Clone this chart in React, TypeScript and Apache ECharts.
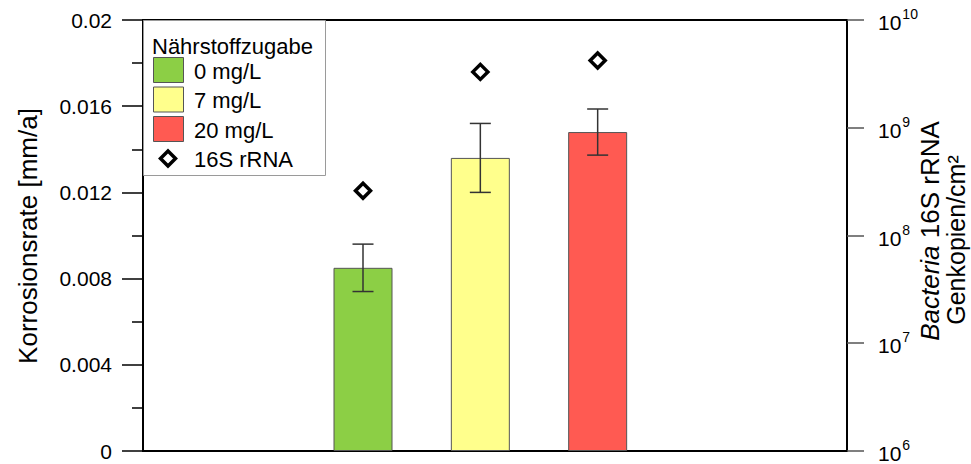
import React, { useEffect, useRef } from 'react';
import * as echarts from 'echarts';

// ---- data ----
const categories = ['0 mg/L', '7 mg/L', '20 mg/L'];
const xPositions = [1.875, 2.875, 3.875];
const corrosionRate = [0.0085, 0.0136, 0.0148];
const corrosionError = [0.0011, 0.0016, 0.00107];
const rna16S = [2.6e8, 3.3e9, 4.2e9];
const barColors = ['#8CCF45', '#FFFF8C', '#FF5A52'];
const legendTitle = 'Nährstoffzugabe';
const rnaName = '16S rRNA';

const FONT = '"Liberation Sans", Arial, Helvetica, sans-serif';

export default function App() {
  const ref = useRef<HTMLDivElement>(null);
  useEffect(() => {
    if (!ref.current) return;
    const chart = echarts.init(ref.current, undefined, { renderer: 'svg' });

    const barData = corrosionRate.map((v, i) => ({
      name: categories[i],
      value: [xPositions[i], v],
      itemStyle: { color: barColors[i] },
    }));
    const errData = corrosionRate.map((v, i) => [xPositions[i], v - corrosionError[i], v + corrosionError[i]]);
    const rnaData = rna16S.map((v, i) => [xPositions[i], v]);

    const legendGraphics: any[] = [
      {
        type: 'rect',
        shape: { x: 143.5, y: 20.5, width: 182, height: 155 },
        style: { fill: '#fff', stroke: '#9a9a9a', lineWidth: 1 },
        z: 10,
      },
      {
        type: 'text',
        x: 152,
        y: 46,
        style: { text: legendTitle, font: `22px ${FONT}`, fill: '#000', textVerticalAlign: 'middle' },
        z: 11,
      },
    ];
    categories.forEach((c, i) => {
      const cy = 70 + i * 29.5;
      legendGraphics.push({
        type: 'rect',
        shape: { x: 153.5, y: cy - 12.5, width: 30, height: 25 },
        style: { fill: barColors[i], stroke: '#555', lineWidth: 1 },
        z: 11,
      });
      legendGraphics.push({
        type: 'text',
        x: 194,
        y: cy + 1,
        style: { text: c, font: `22px ${FONT}`, fill: '#000', textVerticalAlign: 'middle' },
        z: 11,
      });
    });
    const dy = 70 + 3 * 29.5;
    legendGraphics.push({
      type: 'polygon',
      shape: { points: [[168, dy - 7.5], [175.5, dy], [168, dy + 7.5], [160.5, dy]] },
      style: { fill: '#fff', stroke: '#000', lineWidth: 3.5 },
      z: 11,
    });
    legendGraphics.push({
      type: 'text',
      x: 194,
      y: dy + 1,
      style: { text: rnaName, font: `22px ${FONT}`, fill: '#000', textVerticalAlign: 'middle' },
      z: 11,
    });

    const titles: any[] = [
      {
        type: 'text',
        x: 28,
        y: 236,
        rotation: Math.PI / 2,
        style: {
          text: 'Korrosionsrate [mm/a]',
          font: `26px ${FONT}`,
          fill: '#000',
          textAlign: 'center',
          textVerticalAlign: 'middle',
        },
      },
      {
        type: 'text',
        x: 930,
        y: 231,
        rotation: Math.PI / 2,
        style: {
          text: '{i|Bacteria} 16S rRNA',
          rich: {
            i: { fontStyle: 'italic', fontSize: 26, fontFamily: FONT, fill: '#000' },
          },
          fontSize: 26,
          fontFamily: FONT,
          fill: '#000',
          textAlign: 'center',
          textVerticalAlign: 'middle',
        },
      },
      {
        type: 'text',
        x: 956,
        y: 240,
        rotation: Math.PI / 2,
        style: {
          text: 'Genkopien/cm²',
          font: `25px ${FONT}`,
          fill: '#000',
          textAlign: 'center',
          textVerticalAlign: 'middle',
        },
      },
    ];

    chart.setOption({
      animation: false,
      backgroundColor: '#fff',
      grid: {
        left: 143,
        right: 124,
        top: 20,
        bottom: 10,
        show: true,
        borderColor: '#000',
        borderWidth: 2,
        backgroundColor: 'transparent',
      },
      xAxis: {
        type: 'value',
        min: 0,
        max: 6,
        axisLine: { show: true, lineStyle: { color: '#000', width: 2 } },
        axisTick: { show: false },
        axisLabel: { show: false },
        splitLine: { show: false },
      },
      yAxis: [
        {
          type: 'value',
          min: 0,
          max: 0.02,
          interval: 0.004,
          position: 'left',
          axisLine: { show: true, lineStyle: { color: '#000', width: 2 } },
          axisTick: { show: true, length: 21, lineStyle: { color: '#000', width: 1.5 } },
          minorTick: { show: true, splitNumber: 2, length: 11, lineStyle: { color: '#000', width: 1.5 } },
          splitLine: { show: false },
          minorSplitLine: { show: false },
          axisLabel: {
            fontSize: 21,
            fontFamily: FONT,
            color: '#000',
            margin: 31,
            formatter: (v: number) => String(+v.toFixed(3)),
          },
        },
        {
          type: 'log',
          logBase: 10,
          min: 1e6,
          max: 1e10,
          position: 'right',
          axisLine: { show: true, lineStyle: { color: '#000', width: 2 } },
          axisTick: { show: true, length: 17, lineStyle: { color: '#555', width: 1.5 } },
          splitLine: { show: false },
          axisLabel: {
            margin: 31,
            color: '#000',
            formatter: (v: number) => `{b|10}{s|${Math.round(Math.log10(v))}}`,
            rich: {
              b: { fontSize: 21, fontFamily: FONT, color: '#000', verticalAlign: 'bottom' },
              s: { fontSize: 14, fontFamily: FONT, color: '#000', verticalAlign: 'bottom', padding: [0, 0, 12, 1] },
            },
          },
        },
      ],
      series: [
        {
          name: 'Korrosionsrate',
          type: 'bar',
          yAxisIndex: 0,
          barWidth: 59,
          data: barData,
          itemStyle: { borderColor: '#555', borderWidth: 1 },
        },
        {
          name: 'Fehler',
          type: 'custom',
          yAxisIndex: 0,
          data: errData,
          z: 5,
          renderItem: (params: any, api: any) => {
            const x = api.value(0);
            const lo = api.coord([x, api.value(1)]);
            const hi = api.coord([x, api.value(2)]);
            const hw = 10.5;
            const style = { stroke: '#333', lineWidth: 1.5 };
            return {
              type: 'group',
              children: [
                { type: 'line', shape: { x1: hi[0], y1: hi[1], x2: lo[0], y2: lo[1] }, style },
                { type: 'line', shape: { x1: hi[0] - hw, y1: hi[1], x2: hi[0] + hw, y2: hi[1] }, style },
                { type: 'line', shape: { x1: lo[0] - hw, y1: lo[1], x2: lo[0] + hw, y2: lo[1] }, style },
              ],
            };
          },
        },
        {
          name: rnaName,
          type: 'scatter',
          yAxisIndex: 1,
          symbol: 'diamond',
          symbolSize: 15,
          data: rnaData,
          itemStyle: { color: '#fff', borderColor: '#000', borderWidth: 3.5, opacity: 1 },
          z: 6,
        },
      ],
      graphic: [...legendGraphics, ...titles],
    });

    return () => chart.dispose();
  }, []);

  return (
    <div
      ref={ref}
      style={{ position: 'fixed', left: 0, top: 0, width: 971, height: 464, background: '#fff' }}
    />
  );
}
